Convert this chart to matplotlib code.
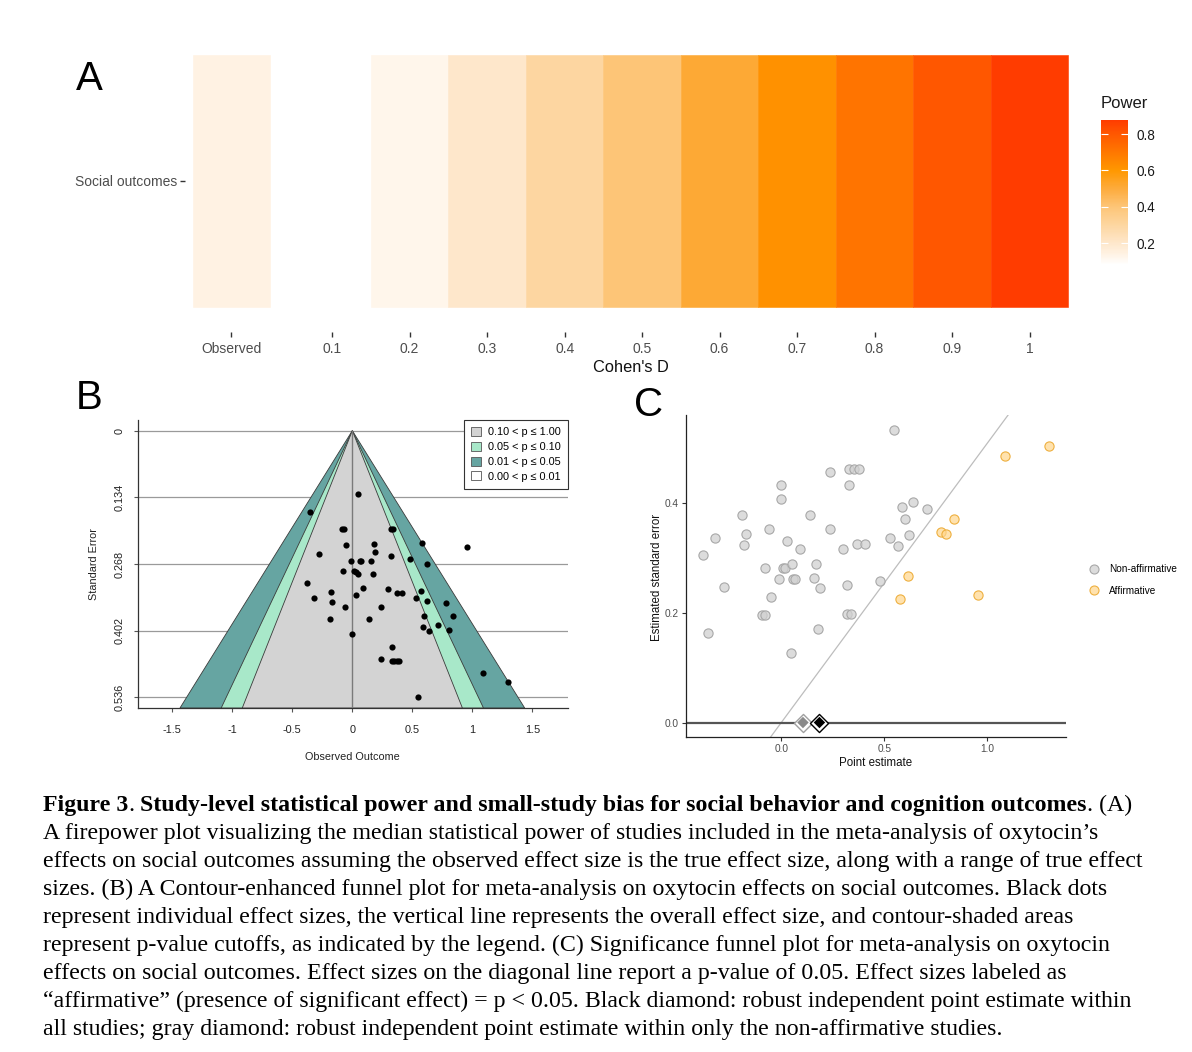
import matplotlib
matplotlib.use('Agg')
import matplotlib.pyplot as plt
import numpy as np
from matplotlib.colors import LinearSegmentedColormap, Normalize
from matplotlib.patches import Patch, Polygon
from matplotlib.lines import Line2D
from matplotlib.cm import ScalarMappable

plt.rcParams['font.family'] = ['Liberation Sans', 'DejaVu Sans']

# ---------------- data ----------------
# Panel A: firepower
power_row = 'Social outcomes'
power_labels = ['Observed', '0.1', '0.2', '0.3', '0.4', '0.5', '0.6', '0.7', '0.8', '0.9', '1']
power_values = [0.14, 0.08, 0.125, 0.20, 0.30, 0.40, 0.51, 0.62, 0.71, 0.80, 0.877]
power_ticks = [0.2, 0.4, 0.6, 0.8]

# Panel B: contour-enhanced funnel (observed outcome, standard error)
funnel_est = [0.05, -0.356, -0.089, -0.072, -0.05, -0.28, 0.18, 0.19, -0.01, 0.061,
              0.075, 0.158, -0.08, 0.011, 0.028, 0.05, 0.169, -0.381, 0.092, -0.178,
              0.03, -0.32, -0.167, -0.058, -0.189, 0.139, 0.0, 0.319, 0.339, 0.58,
              0.958, 0.319, 0.48, 0.622, 0.30, 0.369, 0.411, 0.572, 0.53, 0.622,
              0.78, 0.239, 0.60, 0.842, 0.589, 0.641, 0.711, 0.803, 0.33, 0.239,
              0.33, 0.35, 0.37, 0.39, 1.092, 1.30, 0.55]
funnel_se = [0.127, 0.164, 0.197, 0.197, 0.229, 0.247, 0.227, 0.244, 0.262, 0.262,
             0.262, 0.262, 0.283, 0.283, 0.284, 0.289, 0.289, 0.306, 0.316, 0.325,
             0.331, 0.337, 0.345, 0.354, 0.378, 0.378, 0.4085, 0.198, 0.198, 0.2257,
             0.233, 0.252, 0.258, 0.269, 0.318, 0.327, 0.327, 0.322, 0.337, 0.342,
             0.347, 0.355, 0.372, 0.372, 0.394, 0.403, 0.390, 0.401, 0.434, 0.459,
             0.463, 0.463, 0.463, 0.463, 0.488, 0.506, 0.536]
funnel_se_ticks = [0, 0.134, 0.268, 0.402, 0.536]
funnel_x_ticks = [-1.5, -1, -0.5, 0, 0.5, 1, 1.5]
contour_labels = ['0.10 < p \u2264 1.00', '0.05 < p \u2264 0.10', '0.01 < p \u2264 0.05', '0.00 < p \u2264 0.01']
contour_z = [1.645, 1.96, 2.576]

# Panel C: significance funnel
nonaff_est = [0.549, 0.238, 0.329, 0.351, 0.379, 0.329, 0.0, 0.0, -0.382, -0.32,
              -0.278, -0.357, -0.191, -0.17, -0.18, -0.06, -0.081, -0.05, -0.092, -0.081,
              -0.011, 0.029, 0.09, 0.007, 0.019, 0.051, 0.058, 0.067, 0.049, 0.139,
              0.159, 0.169, 0.188, 0.178, 0.238, 0.298, 0.318, 0.317, 0.339, 0.367,
              0.408, 0.477, 0.528, 0.568, 0.588, 0.60, 0.618, 0.638, 0.708]
nonaff_se = [0.535, 0.457, 0.463, 0.463, 0.463, 0.433, 0.434, 0.409, 0.306, 0.337,
             0.247, 0.164, 0.378, 0.345, 0.325, 0.354, 0.283, 0.229, 0.197, 0.197,
             0.2625, 0.331, 0.316, 0.283, 0.283, 0.289, 0.2625, 0.2625, 0.127, 0.378,
             0.263, 0.289, 0.245, 0.171, 0.354, 0.317, 0.2515, 0.198, 0.198, 0.326,
             0.326, 0.2576, 0.337, 0.322, 0.393, 0.371, 0.342, 0.403, 0.389]
aff_est = [0.578, 0.617, 1.087, 1.298, 0.836, 0.775, 0.797, 0.956]
aff_se = [0.226, 0.268, 0.4865, 0.505, 0.371, 0.347, 0.345, 0.233]
est_all = 0.185
est_nonaff = 0.105
sig_x_ticks = [0.0, 0.5, 1.0]
sig_y_ticks = [0.0, 0.2, 0.4]

caption_lines = [
    None,
    "A firepower plot visualizing the median statistical power of studies included in the meta-analysis of oxytocin\u2019s",
    "effects on social outcomes assuming the observed effect size is the true effect size, along with a range of true effect",
    "sizes. (B) A Contour-enhanced funnel plot for meta-analysis on oxytocin effects on social outcomes. Black dots",
    "represent individual effect sizes, the vertical line represents the overall effect size, and contour-shaded areas",
    "represent p-value cutoffs, as indicated by the legend. (C) Significance funnel plot for meta-analysis on oxytocin",
    "effects on social outcomes. Effect sizes on the diagonal line report a p-value of 0.05. Effect sizes labeled as",
    "\u201caffirmative\u201d (presence of significant effect) = p < 0.05. Black diamond: robust independent point estimate within",
    "all studies; gray diamond: robust independent point estimate within only the non-affirmative studies.",
]
caption_first = [("Figure 3", 'bold'), (".", 'normal'),
                 (" Study-level statistical power and small-study bias for social behavior and cognition outcomes", 'bold'),
                 (". (A)", 'normal')]

# ---------------- figure ----------------
W, H = 1192, 1052
fig = plt.figure(figsize=(W / 100, H / 100), dpi=100)


def box(x0, y0, x1, y1):
    return [x0 / W, 1 - y1 / H, (x1 - x0) / W, (y1 - y0) / H]


def fx(x):
    return x / W


def fy(y):
    return 1 - y / H


# ---------------- Panel A ----------------
nodes = [(0.08, '#FFFFFF'), (0.14, '#FFF2E3'), (0.20, '#FEE7CB'), (0.30, '#FDD6A0'),
         (0.40, '#FDC577'), (0.50, '#FDAB3C'), (0.60, '#FF9800'), (0.70, '#FF7800'),
         (0.80, '#FF5800'), (0.877, '#FF3C00')]
vmin, vmax = min(power_values), max(power_values)
cmap = LinearSegmentedColormap.from_list(
    'fire', [((v - vmin) / (vmax - vmin), c) for v, c in nodes])
norm = Normalize(vmin=vmin, vmax=vmax)

axa = fig.add_axes(box(185, 30, 1076, 332))
xpos = np.r_[-0.3, np.arange(1, len(power_labels))]
cols = cmap(norm(power_values))
axa.bar(xpos, 1.0, width=1.0, bottom=0.5, color=cols, edgecolor=cols, linewidth=0.4)
axa.set_xlim(-0.9, 10.6)
axa.set_ylim(0.4, 1.6)
axa.set_xticks(xpos)
axa.set_xticklabels(power_labels)
axa.set_yticks([1.0])
axa.set_yticklabels([power_row])
for s in axa.spines.values():
    s.set_visible(False)
axa.tick_params(axis='both', length=3.5, width=1.0, color='#333333', labelcolor='#4D4D4D',
                labelsize=10)
axa.tick_params(axis='x', pad=3.5)
axa.tick_params(axis='y', pad=2)
fig.text(fx(630.5), fy(368), "Cohen's D", ha='center', va='center', fontsize=11.8, color='#111111')

cax = fig.add_axes(box(1101, 120, 1128, 265))
cb = fig.colorbar(ScalarMappable(norm=norm, cmap=cmap), cax=cax, ticks=power_ticks)
cb.outline.set_visible(False)
cax.yaxis.set_ticks_position('both')
cax.tick_params(axis='y', direction='in', color='white', length=5, width=0.8,
                labelright=True, labelleft=False, labelsize=9.8, pad=6, labelcolor='#1a1a1a')
cax.set_yticklabels([f'{t:.1f}' for t in power_ticks])
fig.text(fx(1101), fy(104), 'Power', ha='left', va='center', fontsize=12, color='#1a1a1a')

# ---------------- Panel B ----------------
axb = fig.add_axes(box(137.5, 420, 568, 708))
se_bottom = 0.5575
axb.set_xlim(-1.79, 1.797)
axb.set_ylim(se_bottom, -0.0215)
for t in funnel_se_ticks:
    axb.axhline(t, color='#9a9a9a', lw=0.9, zorder=1)
fills = ['#66A5A2', '#A8E8C9', '#D3D3D3']
for z, col in zip(contour_z[::-1], fills):
    axb.add_patch(Polygon([(0, 0), (-z * se_bottom, se_bottom), (z * se_bottom, se_bottom)],
                          closed=True, facecolor=col, edgecolor='#3a3a3a', lw=0.6, zorder=2))
axb.plot([0, 0], [0, se_bottom], color='#7a7a7a', lw=1.0, zorder=3)
axb.scatter(funnel_est, funnel_se, s=20, color='black', zorder=4, linewidths=0)
axb.set_xticks(funnel_x_ticks)
axb.set_xticklabels([f'{t:g}' for t in funnel_x_ticks])
axb.set_yticks(funnel_se_ticks)
axb.set_yticklabels([f'{t:g}' for t in funnel_se_ticks], rotation=90, va='center')
axb.spines['top'].set_visible(False)
axb.spines['right'].set_visible(False)
for s in ['left', 'bottom']:
    axb.spines[s].set_color('#333333')
    axb.spines[s].set_linewidth(0.9)
axb.tick_params(axis='both', length=3, width=0.8, color='#555555', labelsize=7.8, labelcolor='#222222')
axb.tick_params(axis='x', pad=9)
axb.tick_params(axis='y', pad=6)
leg_handles = [Patch(facecolor='#D3D3D3', edgecolor='#555555', lw=0.6),
               Patch(facecolor='#A8E8C9', edgecolor='#555555', lw=0.6),
               Patch(facecolor='#66A5A2', edgecolor='#555555', lw=0.6),
               Patch(facecolor='white', edgecolor='#555555', lw=0.6)]
lg = axb.legend(leg_handles, contour_labels, loc='upper right', bbox_to_anchor=(1.0, 1.0),
                borderaxespad=0, fontsize=7.8, frameon=True, fancybox=False,
                handlelength=0.9, handleheight=0.9, handletextpad=0.7, labelspacing=0.42,
                borderpad=0.65)
lg.get_frame().set_edgecolor('#333333')
lg.get_frame().set_linewidth(0.8)
lg.get_frame().set_alpha(1)
lg.set_zorder(6)
fig.text(fx(94), fy(564), 'Standard Error', rotation=90, ha='center', va='center', fontsize=7.8, color='#222222')
fig.text(fx(352.7), fy(757), 'Observed Outcome', ha='center', va='center', fontsize=7.8, color='#222222')

# ---------------- Panel C ----------------
axc = fig.add_axes(box(685.7, 415, 1065.7, 737.3))
axc.set_xlim(-0.464, 1.38)
axc.set_ylim(-0.027, 0.5615)
ys = np.array(axc.get_ylim())
axc.plot(1.96 * ys, ys, color='#BDBDBD', lw=0.9, zorder=1)
axc.axhline(0, color='#555555', lw=1.6, zorder=2)
axc.scatter(nonaff_est, nonaff_se, s=44, facecolor=(0.82, 0.82, 0.82, 0.75),
            edgecolor='#A8A8A8', linewidths=0.8, zorder=3)
axc.scatter(aff_est, aff_se, s=44, facecolor=(1.0, 0.84, 0.55, 0.7),
            edgecolor='#EEB040', linewidths=0.8, zorder=3)
axc.scatter([est_nonaff], [0], marker='D', s=85, facecolor='white', edgecolor='#A0A0A0', linewidths=1.0, zorder=4)
axc.scatter([est_nonaff], [0], marker='D', s=34, facecolor='#8a8a8a', edgecolor='none', zorder=5)
axc.scatter([est_all], [0], marker='D', s=85, facecolor='white', edgecolor='black', linewidths=1.0, zorder=4)
axc.scatter([est_all], [0], marker='D', s=34, facecolor='black', edgecolor='none', zorder=5)
axc.set_xticks(sig_x_ticks)
axc.set_xticklabels([f'{t:.1f}' for t in sig_x_ticks])
axc.set_yticks(sig_y_ticks)
axc.set_yticklabels([f'{t:.1f}' for t in sig_y_ticks])
axc.spines['top'].set_visible(False)
axc.spines['right'].set_visible(False)
for s in ['left', 'bottom']:
    axc.spines[s].set_color('#222222')
    axc.spines[s].set_linewidth(0.9)
axc.tick_params(axis='both', length=3, width=0.8, color='#333333', labelsize=7.3, labelcolor='#4D4D4D', pad=2)
fig.text(fx(657), fy(577), 'Estimated standard error', rotation=90, ha='center', va='center', fontsize=8.3, color='#111111')
fig.text(fx(876), fy(763), 'Point estimate', ha='center', va='center', fontsize=8.3, color='#111111')
hc = [Line2D([], [], ls='none', marker='o', markersize=6.5, markerfacecolor=(0.82, 0.82, 0.82, 0.75),
             markeredgecolor='#A8A8A8', markeredgewidth=0.8),
      Line2D([], [], ls='none', marker='o', markersize=6.5, markerfacecolor=(1.0, 0.84, 0.55, 0.7),
             markeredgecolor='#EEB040', markeredgewidth=0.8)]
fig.legend(hc, ['Non-affirmative', 'Affirmative'], loc='center left', bbox_to_anchor=(fx(1088), fy(580)),
           frameon=False, fontsize=7.2, handlelength=1.2, handletextpad=0.9, labelspacing=1.1,
           borderpad=0, borderaxespad=0)

# ---------------- panel letters ----------------
for lab, (x, y) in zip(['A', 'B', 'C'], [(89, 79), (89, 398), (649, 405)]):
    fig.text(fx(x), fy(y), lab, ha='center', va='center', fontsize=29, color='black')

# ---------------- caption ----------------
serif = ['Liberation Serif', 'DejaVu Serif']
renderer = fig.canvas.get_renderer()
probe = fig.text(0, 0, caption_lines[2], fontsize=14, family=serif)
wpx = probe.get_window_extent(renderer).width
probe.remove()
cap_fs = 14 * (1107.0 / wpx)
x_left = 43
base0 = 811
step = 28.05
x = x_left
for txt, wt in caption_first:
    t = fig.text(fx(x), fy(base0), txt, fontsize=cap_fs, family=serif, weight=wt,
                 ha='left', va='baseline', color='black')
    x += t.get_window_extent(renderer).width
for i, line in enumerate(caption_lines):
    if line is None:
        continue
    fig.text(fx(x_left), fy(base0 + i * step), line, fontsize=cap_fs, family=serif,
             ha='left', va='baseline', color='black')

fig.savefig('out.png', dpi=100)
